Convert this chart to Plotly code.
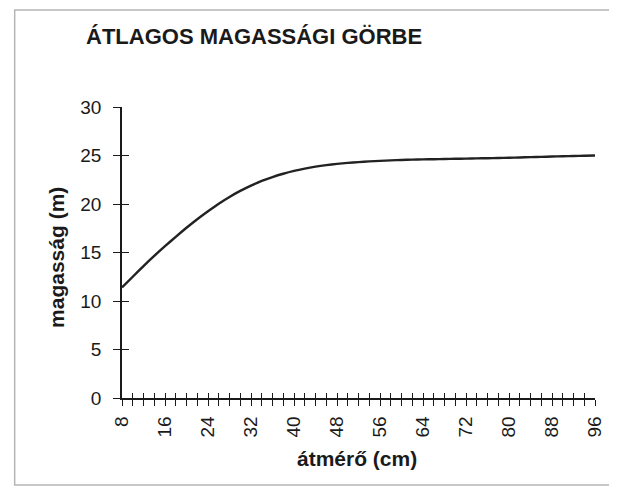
import plotly.graph_objects as go

# ---- data ----
diameter_cm = list(range(8, 97, 2))
height_m = [11.4, 12.5, 13.6, 14.65, 15.65, 16.62, 17.55, 18.43, 19.25, 20.03,
            20.73, 21.35, 21.9, 22.38, 22.78, 23.12, 23.41, 23.65, 23.85, 24.01,
            24.14, 24.24, 24.32, 24.39, 24.45, 24.5, 24.54, 24.57, 24.6, 24.62,
            24.64, 24.66, 24.68, 24.7, 24.72, 24.74, 24.77, 24.8, 24.83, 24.86,
            24.89, 24.92, 24.95, 24.97, 25.0]
x_label_step = 8
y_ticks = [0, 5, 10, 15, 20, 25, 30]
x_tick_text = [str(v) if (v - 8) % x_label_step == 0 else "" for v in diameter_cm]

title_text = "ÁTLAGOS MAGASSÁGI GÖRBE"
x_title = "átmérő (cm)"
y_title = "magasság (m)"

# ---- layout geometry (page body has an 8px margin) ----
OFF = 8
W, H = 617 - OFF, 493 - OFF
L, R, T, B = 122 - OFF, 19, 107 - OFF, 95
PW, PH = W - L - R, H - T - B


def px2x(px):
    return (px - OFF - L) / PW


def px2y(py):
    return (H - B - (py - OFF)) / PH


FONT = "Liberation Sans, Arial, sans-serif"
INK = "#1a1a1a"

fig = go.Figure()
fig.add_trace(go.Scatter(x=diameter_cm, y=height_m, mode="lines",
                         line=dict(color="#222222", width=2.4, shape="spline", smoothing=0.6),
                         hoverinfo="skip", showlegend=False))
# invisible companion trace so the overlay axes (inner half of crossing ticks) render
fig.add_trace(go.Scatter(x=diameter_cm, y=height_m, mode="lines",
                         line=dict(color="rgba(0,0,0,0)", width=0),
                         xaxis="x2", yaxis="y2", hoverinfo="skip", showlegend=False))

xrange = [diameter_cm[0], diameter_cm[-1]]
yrange = [y_ticks[0], y_ticks[-1]]

fig.update_layout(
    width=W, height=H,
    margin=dict(l=L, r=R, t=T, b=B, pad=0),
    paper_bgcolor="white", plot_bgcolor="white",
    font=dict(family=FONT, color=INK),
    xaxis=dict(range=xrange, tickmode="array", tickvals=diameter_cm, ticktext=x_tick_text,
               tickangle=-90, ticks="outside", ticklen=6, tickwidth=1.2, tickcolor=INK,
               showline=True, linecolor=INK, linewidth=1.5, showgrid=False, zeroline=False,
               tickfont=dict(size=19, family=FONT, color=INK), ticklabelstandoff=3),
    yaxis=dict(range=yrange, tickmode="array", tickvals=y_ticks,
               ticks="outside", ticklen=7, tickwidth=1.4, tickcolor=INK,
               showline=True, linecolor=INK, linewidth=1.5, showgrid=False, zeroline=False,
               tickfont=dict(size=19, family=FONT, color=INK), ticklabelstandoff=8),
    xaxis2=dict(range=xrange, overlaying="x", anchor="y2", tickmode="array",
                tickvals=diameter_cm, showticklabels=False, ticks="inside", ticklen=5,
                tickwidth=1.2, tickcolor=INK, showline=False, showgrid=False, zeroline=False),
    yaxis2=dict(range=yrange, overlaying="y", anchor="x2", side="left", tickmode="array",
                tickvals=y_ticks, showticklabels=False, ticks="inside", ticklen=7,
                tickwidth=1.4, tickcolor=INK, showline=False, showgrid=False, zeroline=False),
    showlegend=False,
)

fig.add_annotation(text=title_text, xref="paper", yref="paper", x=px2x(255), y=px2y(36.5),
                   xanchor="center", yanchor="middle", showarrow=False,
                   font=dict(size=22, family=FONT, color=INK, weight="bold"))
fig.add_annotation(text=x_title, xref="paper", yref="paper", x=px2x(358), y=px2y(458),
                   xanchor="center", yanchor="middle", showarrow=False,
                   font=dict(size=21, family=FONT, color=INK, weight="bold"))
fig.add_annotation(text=y_title, xref="paper", yref="paper", x=px2x(56), y=px2y(257.5),
                   xanchor="center", yanchor="middle", showarrow=False, textangle=-90,
                   font=dict(size=21, family=FONT, color=INK, weight="bold"))

fig.add_shape(type="rect", xref="paper", yref="paper",
              x0=px2x(14), x1=px2x(613), y0=px2y(485), y1=px2y(10),
              line=dict(color="#b5b5b5", width=1.5), layer="below")

fig.write_html("out.html")
